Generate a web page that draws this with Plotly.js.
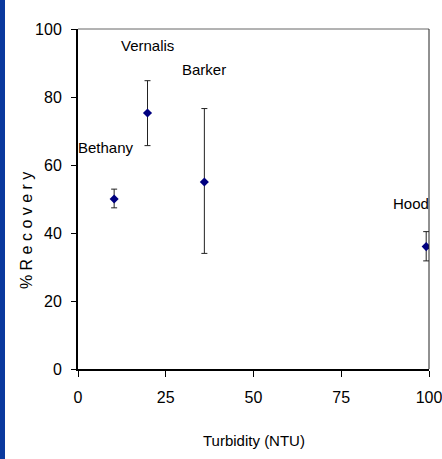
<!DOCTYPE html>
<html>
<head>
<meta charset="utf-8">
<script src="https://cdn.plot.ly/plotly-3.0.1.min.js"></script>
<style>
  html, body { margin: 0; padding: 0; background: #fff; }
  #wrap { position: relative; width: 442px; height: 459px; }
  #chart { width: 442px; height: 459px; }
  #strip { position: absolute; left: 0; top: 0; width: 5px; height: 459px; background: #0a399e; }
</style>
</head>
<body>
<div id="wrap">
  <div id="chart"></div>
  <div id="strip"></div>
</div>
<script>
// Data
const sites = ["Bethany", "Vernalis", "Barker", "Hood"];
const turbidity = [10.3, 19.8, 36, 99.2];
const recovery = [50, 75.3, 55, 36];
const errorPlus = [2.9, 9.5, 21.6, 4.4];
const errorMinus = [2.6, 9.6, 21, 4.2];
// label pixel offsets relative to each point
const labelDx = [-8, 0, 0, -15];
const labelDy = [52, 67, 113, 43];
const xTicks = [0, 25, 50, 75, 100];
const yTicks = [0, 20, 40, 60, 80, 100];

const FONT = "Liberation Sans, Arial, sans-serif";

const trace = {
  x: turbidity,
  y: recovery,
  type: "scatter",
  mode: "markers",
  marker: { symbol: "diamond", size: 7, color: "#000080" },
  error_y: {
    type: "data",
    symmetric: false,
    array: errorPlus,
    arrayminus: errorMinus,
    color: "#222",
    thickness: 1,
    width: 3
  },
  hoverinfo: "none"
};

const annotations = sites.map((s, i) => ({
  x: turbidity[i], y: recovery[i], xref: "x", yref: "y",
  text: s, showarrow: false,
  xshift: labelDx[i], yshift: labelDy[i],
  xanchor: "center", yanchor: "middle",
  font: { family: FONT, size: 15, color: "#000" }
}));
annotations.push({
  xref: "paper", yref: "paper", x: 0.5, y: -0.209,
  xanchor: "center", yanchor: "middle",
  text: "Turbidity (NTU)", showarrow: false,
  font: { family: FONT, size: 15, color: "#000" }
});
annotations.push({
  xref: "paper", yref: "paper", x: -0.145, y: 0.406,
  xanchor: "center", yanchor: "middle",
  text: "% R e c o v e r y", showarrow: false, textangle: -90,
  font: { family: FONT, size: 16, color: "#000" }
});

const layout = {
  width: 442, height: 459,
  margin: { l: 78, r: 13, t: 29, b: 90, pad: 0 },
  paper_bgcolor: "#fff",
  plot_bgcolor: "#fff",
  showlegend: false,
  font: { family: FONT, size: 16, color: "#000" },
  xaxis: {
    range: [0, 100], tickvals: xTicks, ticktext: xTicks.map(String),
    showgrid: false, zeroline: false,
    showline: true, linecolor: "#000", linewidth: 2,
    ticks: "outside", ticklen: 6, tickcolor: "#000", tickwidth: 1,
    ticklabelstandoff: 7, ticklabeloverflow: "allow",
    tickfont: { family: FONT, size: 16, color: "#000" }
  },
  yaxis: {
    range: [0, 100], tickvals: yTicks, ticktext: yTicks.map(String),
    showgrid: false, zeroline: false,
    showline: true, linecolor: "#000", linewidth: 2,
    ticks: "outside", ticklen: 5, tickcolor: "#000", tickwidth: 1,
    ticklabelstandoff: 6,
    tickfont: { family: FONT, size: 16, color: "#000" }
  },
  shapes: [
    { type: "line", xref: "paper", yref: "paper", x0: 0, x1: 1, y0: 1, y1: 1,
      line: { color: "#666", width: 1 } },
    { type: "line", xref: "paper", yref: "paper", x0: 1, x1: 1, y0: 0, y1: 1,
      line: { color: "#222", width: 1 } }
  ],
  annotations: annotations
};

Plotly.newPlot("chart", [trace], layout, { displayModeBar: false, staticPlot: true });
</script>
</body>
</html>
